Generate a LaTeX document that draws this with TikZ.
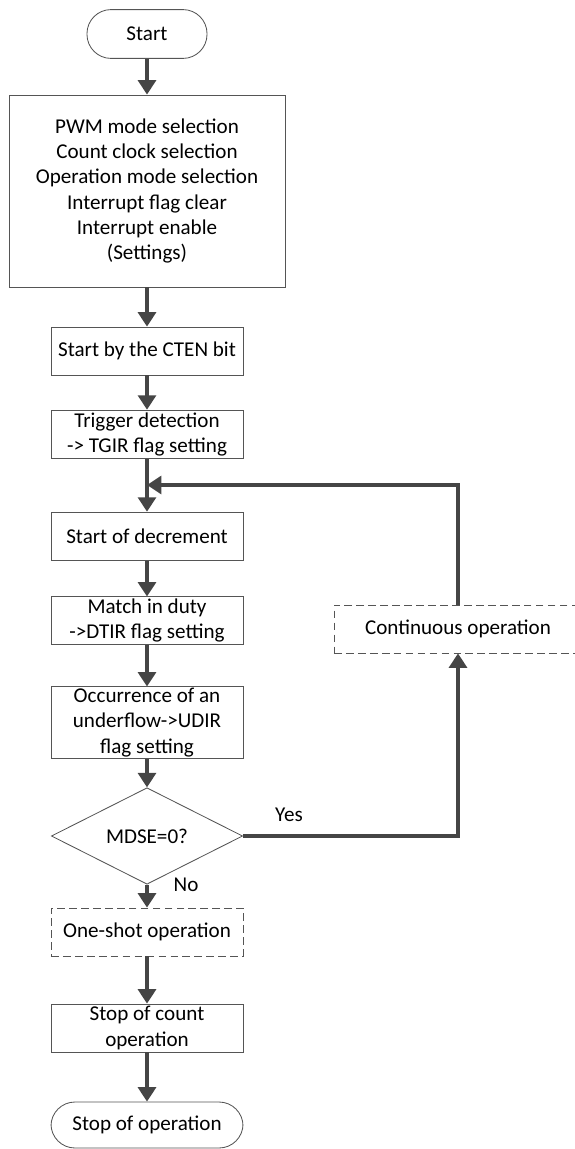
\documentclass[tikz,border=0pt]{standalone}
\usepackage{fontspec}
\setmainfont{Carlito}
\usetikzlibrary{shapes.geometric,arrows.meta}
\definecolor{linegray}{HTML}{454545}
\definecolor{boxgray}{HTML}{555555}
\begin{document}
\begin{tikzpicture}[x=0.025cm,y=-0.025cm,
  base/.style={font=\fontsize{15}{18}\selectfont,align=center,inner sep=0pt,
    draw=boxgray,line width=0.6pt,text=black},
  term/.style={base,rectangle,rounded corners=0.6cm,minimum width=3cm,minimum height=1.22cm},
  proc/.style={base,rectangle,minimum width=4.8cm,minimum height=1.2cm},
  optbox/.style={proc,dash pattern=on 5.5pt off 3pt},
  decide/.style={base,diamond,minimum width=4.78cm,minimum height=1.5cm},
  lbl/.style={font=\fontsize{15}{18}\selectfont,inner sep=0pt},
  flow/.style={draw=linegray,line width=2.2pt,-{Triangle[length=0.36cm,width=0.45cm]}}]
\useasboundingbox (0,0) rectangle (574,1149);

%main column
\node[term] (start) at (147,34) {Start};
\node[proc,minimum width=6.9cm,minimum height=4.8cm] (setup) at (147,191)
  {PWM mode selection\\Count clock selection\\Operation mode selection\\Interrupt flag clear\\Interrupt enable\\(Settings)};
\node[proc] (cten) at (147,351) {Start by the CTEN bit};
\node[proc,minimum height=1.22cm] (trig) at (147,434.5) {Trigger detection\\-> TGIR flag setting};
\coordinate (merge) at (147,485);
\node[proc,minimum height=1.22cm] (dec) at (147,536.5) {Start of decrement};
\node[proc,minimum height=1.18cm] (duty) at (147,620.5) {Match in duty\\->DTIR flag setting};
\node[proc,minimum height=1.78cm] (udf) at (147,722.5) {Occurrence of an\\underflow->UDIR\\flag setting};
\node[decide] (mdse) at (147,836) {MDSE=0?};
\node[optbox] (oneshot) at (147,932) {One-shot operation};
\node[proc] (stopcnt) at (147,1028) {Stop of count\\operation};
\node[term,minimum width=4.8cm,minimum height=1.15cm] (stop) at (147,1125) {Stop of operation};

%loop back
\node[optbox,minimum width=6.2cm] (cont) at (458,629) {Continuous operation};
\coordinate (turn) at (458,836);

%labels
\node[lbl] (yes) at (289,815) {Yes};
\node[lbl] (no) at (186,885) {No};

%edges
\draw[flow] (start) -- (setup);
\draw[flow] (setup) -- (cten);
\draw[flow] (cten) -- (trig);
\draw[flow] (trig) -- (dec);
\draw[flow] (dec) -- (duty);
\draw[flow] (duty) -- (udf);
\draw[flow] (udf) -- (mdse);
\draw[flow] (mdse) -- (oneshot);
\draw[flow] (oneshot) -- (stopcnt);
\draw[flow] (stopcnt) -- (stop);
\draw[flow] (mdse.east) -- (turn) -- (cont.south);
\draw[flow] (cont.north) |- (merge);
\end{tikzpicture}
\end{document}
